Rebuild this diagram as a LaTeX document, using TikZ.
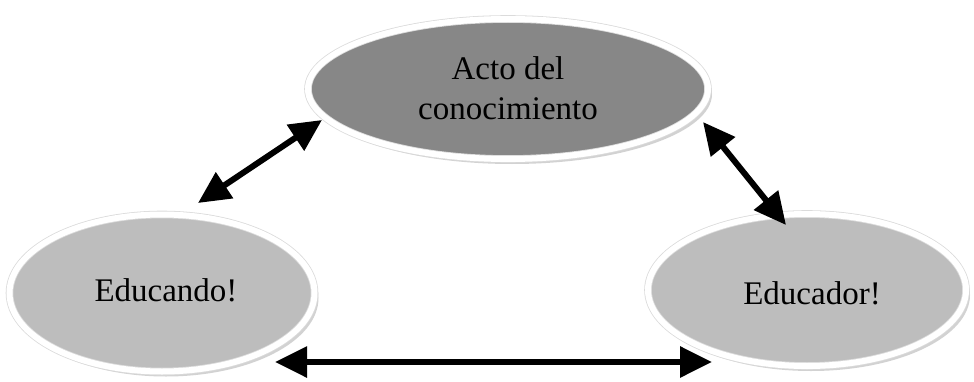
\documentclass[tikz,border=0pt]{standalone}
\usepackage{fontspec}
\setmainfont{Liberation Serif}
\usetikzlibrary{arrows.meta,shadows,shapes.geometric}
\tikzset{
  bubble/.style={ellipse, draw=black!14, line width=0.8pt, double=white, double distance=6pt, inner sep=0pt,
    drop shadow={shadow xshift=4pt, shadow yshift=-5pt, fill=black!35, opacity=0.5}},
  dark/.style={bubble, fill=black!47},
  light/.style={bubble, fill=black!26},
  lbl/.style={font=\fontsize{33}{40}\selectfont, align=center, text=black},
  conn/.style={line width=6pt, {Triangle[length=32pt,width=30pt]}-{Triangle[length=32pt,width=30pt]}}
}
\begin{document}
\begin{tikzpicture}[x=1pt,y=1pt]
\useasboundingbox (0,0) rectangle (974,381);
\node[dark, minimum width=400pt, minimum height=140pt] (acto) at (508,292) {};
\node[lbl] (actot) at (508,293) {Acto del\\conocimiento};
\node[light, minimum width=305pt, minimum height=157pt] (educando) at (162,88) {};
\node[lbl] (educandot) at (166,91) {Educando!};
\node[light, minimum width=318pt, minimum height=152pt] (educador) at (807,91) {};
\node[lbl] (educadort) at (812,88) {Educador!};
\coordinate (a1) at (198,178);
\coordinate (a2) at (322,261);
\coordinate (b1) at (703,259);
\coordinate (b2) at (786,156);
\coordinate (c1) at (275,19);
\coordinate (c2) at (712,19);
\draw[conn] (a1) -- (a2);
\draw[conn] (b1) -- (b2);
\draw[conn] (c1) -- (c2);
\end{tikzpicture}
\end{document}
